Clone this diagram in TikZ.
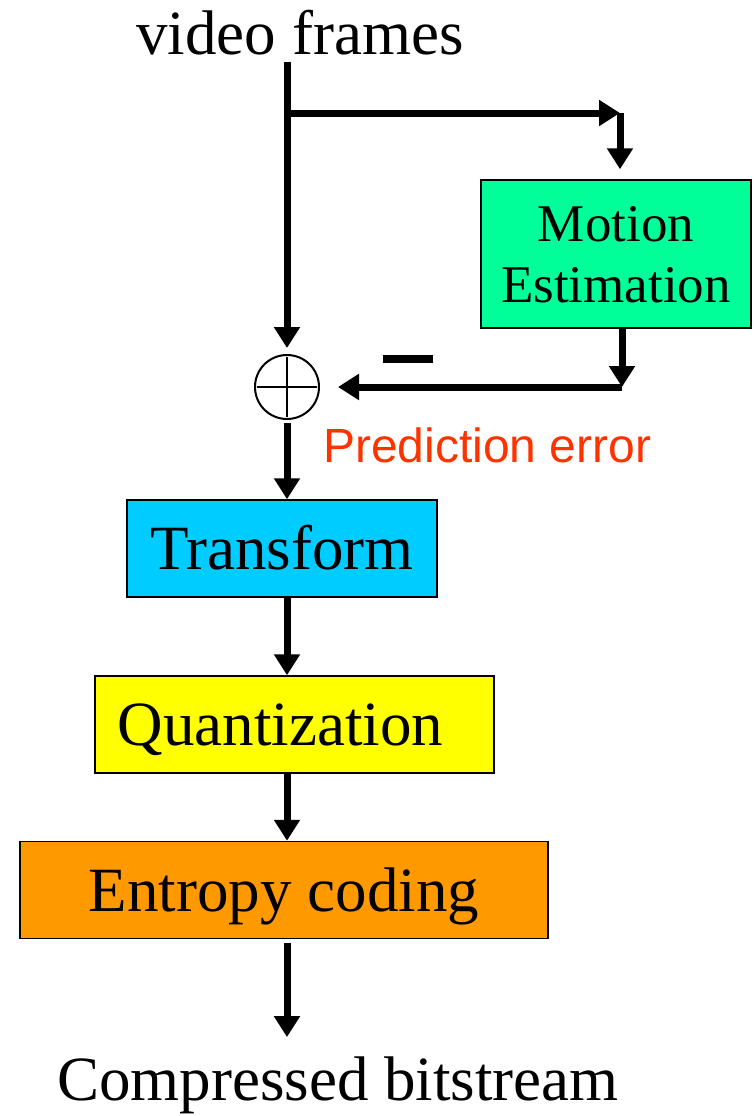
\documentclass[tikz,border=0pt]{standalone}
\usepackage{fontspec}
\setmainfont{Liberation Serif}
\newfontfamily\arialfont{Liberation Sans}
\usetikzlibrary{shapes,arrows.meta}
\definecolor{mecol}{HTML}{00FF99}
\definecolor{trcol}{HTML}{00CCFF}
\definecolor{qucol}{HTML}{FFFF00}
\definecolor{encol}{HTML}{FF9900}
\definecolor{errcol}{HTML}{FF3300}
\tikzstyle{block} = [rectangle, draw, line width=1.5pt, inner sep=0pt,
    minimum height=97pt, text height=42pt, text depth=0pt, font=\fontsize{63}{72}\selectfont]
\tikzstyle{block_two} = [rectangle, draw, line width=1.5pt, inner sep=0pt, align=center,
    minimum width=270pt, minimum height=148pt, text height=96pt, text depth=0pt, font=\fontsize{53}{61}\selectfont]
\tikzstyle{iolabel} = [inner sep=0pt, anchor=base, font=\fontsize{63}{72}\selectfont]
\tikzstyle{sumnode} = [circle, draw, line width=2pt, minimum size=64pt, inner sep=0pt]
\tikzstyle{flow} = [draw, line width=7pt, -{Triangle[length=21pt,width=25pt]}]

\begin{document}
\begin{tikzpicture}[x=1pt, y=-1pt]
    \useasboundingbox (0,0) rectangle (754,1116);
    % Place nodes
    \node [iolabel] (frames) at (300,55) {video frames};
    \node [sumnode] (sum) at (287,387) {};
    \node [block_two, fill=mecol] (motion) at (616,254) {Motion\\Estimation};
    \node [block, fill=trcol, minimum width=310pt, below of=sum, node distance=161.5pt, xshift=-5pt] (transform) {Transform};
    \node [block, fill=qucol, minimum width=399pt, below of=transform, node distance=176pt, xshift=12.5pt] (quant) {Quantization\kern28pt};
    \node [block, fill=encol, minimum width=528pt, below of=quant, node distance=165.5pt, xshift=-10.5pt] (entropy) {Entropy coding};
    \node [iolabel] (out) at (338,1100) {Compressed bitstream};
    \node [inner sep=0pt] (minus) at (408,359) {\rule{50pt}{8pt}};
    \node [inner sep=0pt, anchor=base west, text=errcol, font=\arialfont\fontsize{48}{56}\selectfont] (err) at (323,462) {Prediction error};
    \coordinate (split) at (288,113);
    \coordinate (corner) at (620,113);
    \coordinate (mecorner) at (622,387);

    % Draw edges
    \draw [line width=2pt] ([yshift=-3pt]sum.north) -- ([yshift=3pt]sum.south);
    \draw [line width=2pt] ([xshift=3pt]sum.west) -- ([xshift=-3pt]sum.east);
    \path [flow, shorten <=6pt, shorten >=6pt] (frames.south -| sum) -- (sum.north);
    \path [flow] (split) -- (corner);
    \path [flow, shorten >=10pt] (corner) -- (motion.north -| corner);
    \path [flow] (motion.south -| mecorner) -- (mecorner);
    \path [flow, shorten >=18pt] (mecorner) -- (sum.east);
    \path [flow, shorten <=3pt] (sum.south) -- (transform.north -| sum);
    \path [flow] (transform.south -| sum) -- (quant.north -| sum);
    \path [flow] (quant.south -| sum) -- (entropy.north -| sum);
    \path [flow, shorten <=4pt, shorten >=19pt] (entropy.south -| sum) -- (out.north -| sum);
\end{tikzpicture}
\end{document}
